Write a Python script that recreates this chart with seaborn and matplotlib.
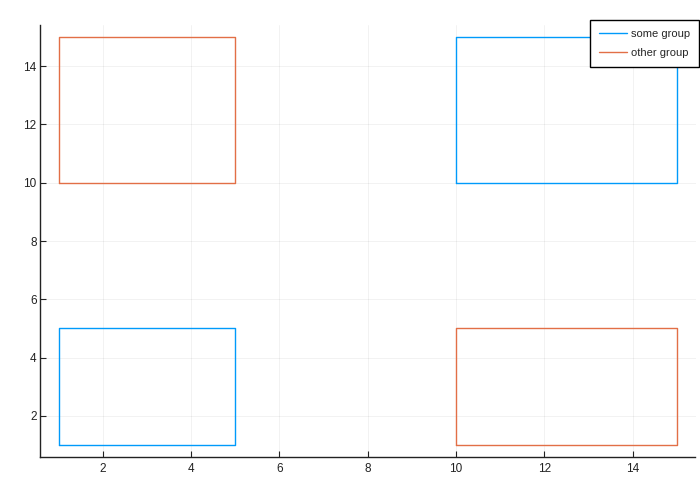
import matplotlib
matplotlib.use("Agg")
import matplotlib.pyplot as plt
import seaborn as sns
import pandas as pd

groups = ["some group", "other group"]
# each rectangle: x corners and y corners (closed path)
rect_ids = ["a1", "a2", "b1", "b2"]
rect_groups = ["some group", "some group", "other group", "other group"]
rect_x = [[1, 5, 5, 1, 1], [10, 15, 15, 10, 10], [1, 5, 5, 1, 1], [10, 15, 15, 10, 10]]
rect_y = [[1, 1, 5, 5, 1], [10, 10, 15, 15, 10], [10, 10, 15, 15, 10], [1, 1, 5, 5, 1]]
xticks = [2, 4, 6, 8, 10, 12, 14]
yticks = [2, 4, 6, 8, 10, 12, 14]

rows = []
for rid, g, xs, ys in zip(rect_ids, rect_groups, rect_x, rect_y):
    for i, (x, y) in enumerate(zip(xs, ys)):
        rows.append({"id": rid, "group": g, "x": x, "y": y, "order": i})
df = pd.DataFrame(rows)

sns.set_style("white")
plt.rcParams["font.family"] = ["Liberation Sans", "DejaVu Sans"]

fig = plt.figure(figsize=(7, 5), dpi=100)
ax = fig.add_axes([40 / 700, 1 - 457.2 / 500, (695.5 - 40) / 700, (457.2 - 24.8) / 500])

palette = {"some group": "#009AFA", "other group": "#E26F46"}
sns.lineplot(data=df, x="x", y="y", hue="group", units="id", estimator=None,
             sort=False, palette=palette, hue_order=groups, linewidth=1.0, ax=ax,
             legend=False)

ax.set_xlim(0.58, 15.42)
ax.set_ylim(0.58, 15.42)
ax.set_xticks(xticks)
ax.set_yticks(yticks)
ax.set_xticklabels([str(t) for t in xticks])
ax.set_yticklabels([str(t) for t in yticks])
ax.set_xlabel("")
ax.set_ylabel("")
ax.grid(True, color="#000000", alpha=0.05, linewidth=0.7)
ax.tick_params(direction="in", length=4, width=0.8, labelsize=8.5, colors="#222222",
               left=True, bottom=True)
ax.tick_params(axis="x", pad=4)
ax.tick_params(axis="y", pad=2.5)
for s in ["top", "right"]:
    ax.spines[s].set_visible(False)
for s in ["left", "bottom"]:
    ax.spines[s].set_color("#222222")
    ax.spines[s].set_linewidth(1.0)

from matplotlib.lines import Line2D
handles = [Line2D([], [], color=palette[g], linewidth=1.0) for g in groups]
leg = fig.legend(handles, groups, loc="upper right", bbox_to_anchor=(699 / 700, 1 - 20 / 500),
                 bbox_transform=fig.transFigure, borderaxespad=0, fontsize=8,
                 fancybox=False, frameon=True, edgecolor="#000000", framealpha=1,
                 handlelength=2.5, handletextpad=0.4, labelspacing=0.8, borderpad=0.8)
leg.get_frame().set_linewidth(1.0)

fig.savefig("out.png", dpi=100)
